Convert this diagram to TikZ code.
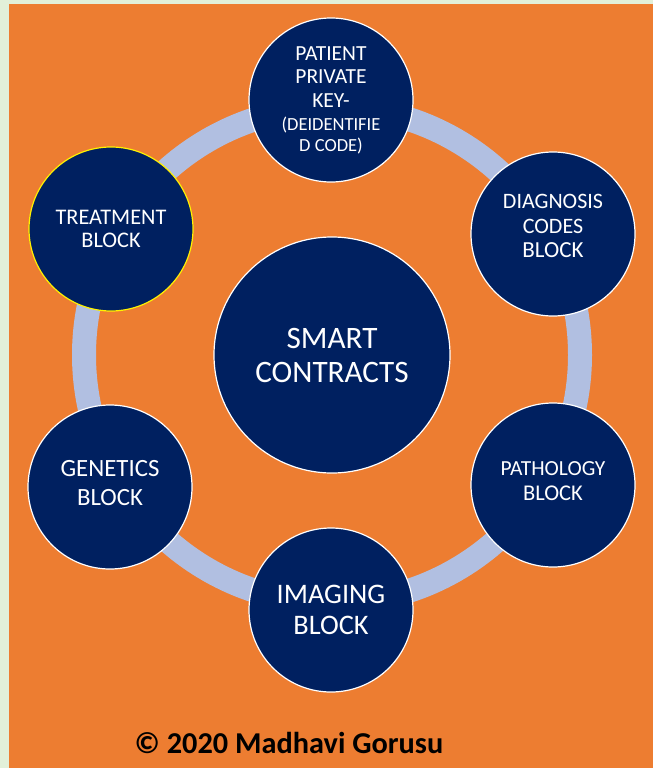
\documentclass[tikz,border=0pt]{standalone}
\usepackage{fontspec}
\setmainfont{Carlito}
\definecolor{navy}{HTML}{002060}
\definecolor{bgorange}{HTML}{ED7D31}
\definecolor{ringblue}{HTML}{B1BFE1}
\definecolor{paleframe}{HTML}{E2F0D9}
\begin{document}
\begin{tikzpicture}[x=1pt, y=-1pt,
    block/.style={circle, fill=navy, draw=white, line width=1.2pt, minimum size=164pt, inner sep=0pt, align=center, text=white},
    hub/.style={block, minimum size=236pt}]
  % background and frame
  \fill[paleframe] (0,0) rectangle (653,768);
  \fill[bgorange] (9,4) rectangle (653,768);
  \useasboundingbox (0,0) rectangle (653,768);
  % ring behind the blocks
  \coordinate (Hub) at (332,355);
  \draw[ringblue, line width=24pt] (Hub) circle (248pt);
  \node[hub, font=\fontsize{31.2}{34}\selectfont] (Smart) at (Hub) {SMART\\CONTRACTS};
  \node[block, font=\fontsize{21.5}{23.5}\selectfont] (Key) at (331,100) {PATIENT\\PRIVATE\\KEY-\\{\fontsize{18.5}{20}\selectfont (DEIDENTIFIE}\\[-3pt]{\fontsize{18.5}{20}\selectfont D CODE)}};
  \node[block, text depth=16pt, font=\fontsize{22}{24.5}\selectfont] (Diag) at (553,234) {DIAGNOSIS\\CODES\\{\fontsize{23}{25}\selectfont BLOCK}};
  \node[block, text depth=8pt, font=\fontsize{21.5}{25.5}\selectfont] (Path) at (553,485) {PATHOLOGY\\{\fontsize{22.5}{25}\selectfont BLOCK}};
  \node[block, font=\fontsize{28.3}{31}\selectfont] (Img) at (331,610) {IMAGING\\BLOCK};
  \node[block, text depth=8pt, font=\fontsize{24.8}{29}\selectfont] (Gen) at (110,487) {GENETICS\\BLOCK};
  \node[block, draw=yellow, font=\fontsize{22.3}{23.5}\selectfont] (Treat) at (111,229) {TREATMENT\\BLOCK};
  % credit line
  \node[anchor=base, font=\bfseries\fontsize{30.3}{36}\selectfont] (Credit) at (289,753) {© 2020 Madhavi Gorusu};
\end{tikzpicture}
\end{document}
